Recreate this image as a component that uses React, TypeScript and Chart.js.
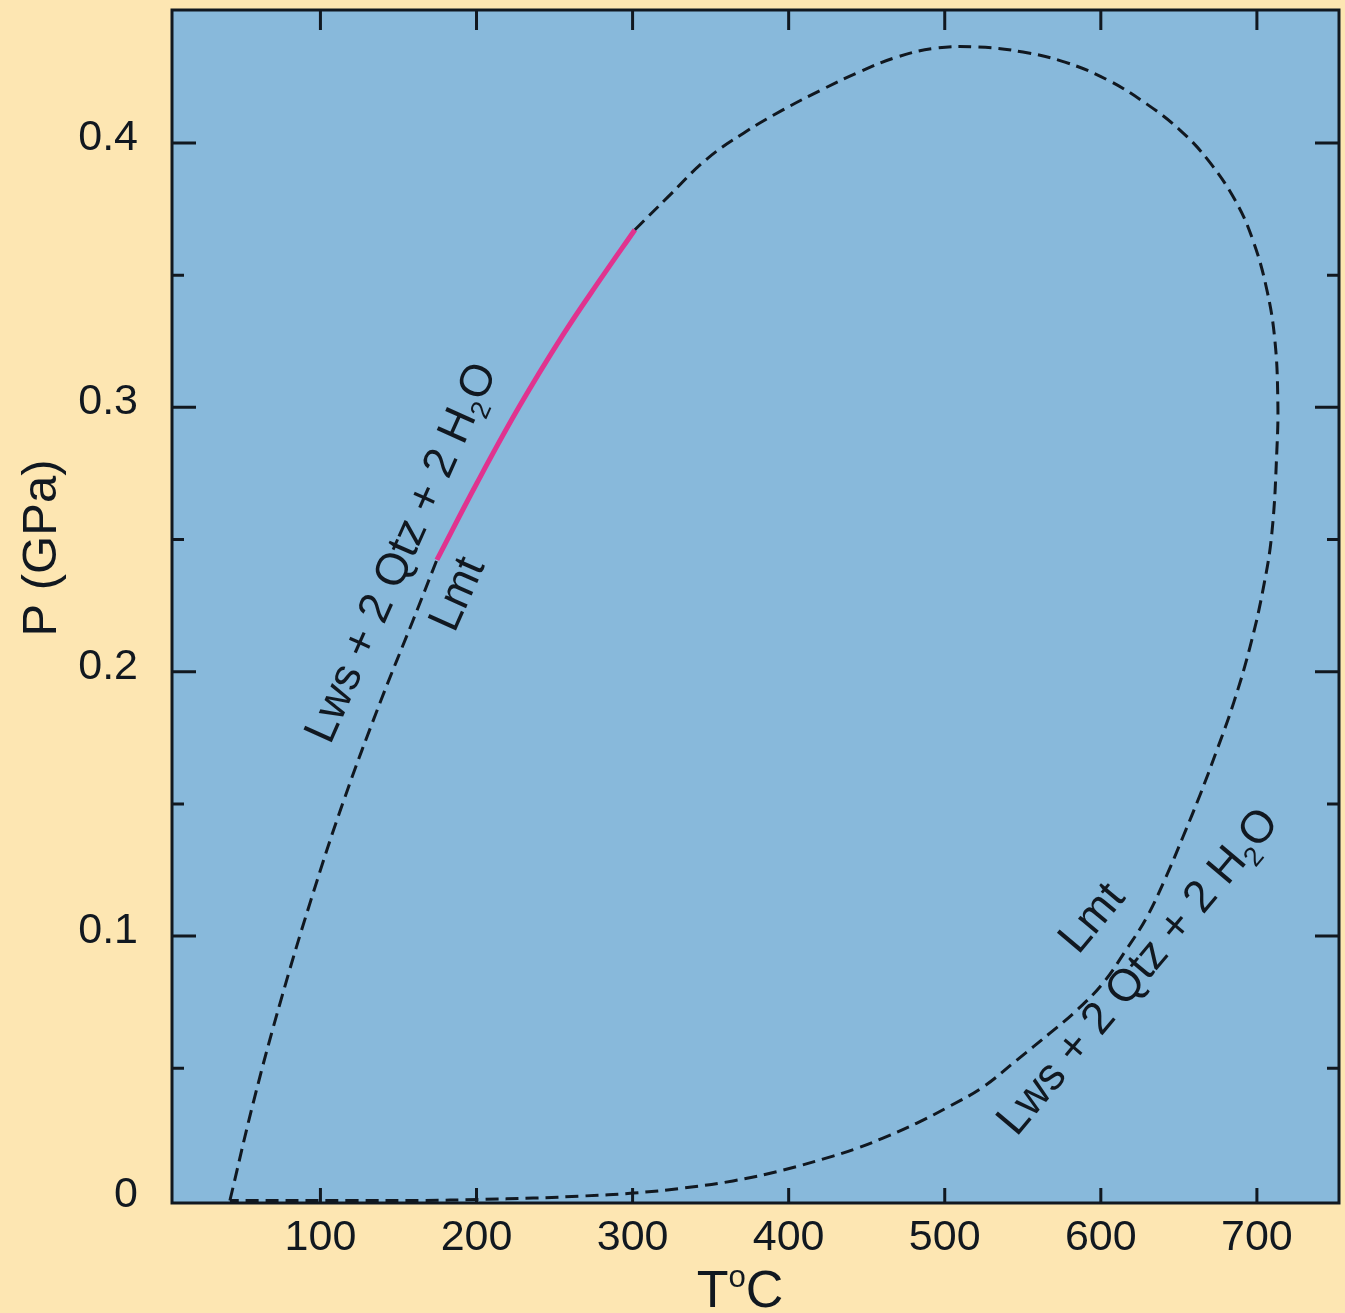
import React, { useEffect, useRef } from 'react';
import { Chart, registerables } from 'chart.js';

Chart.register(...registerables);

// ---- Data ----
const xTickValues = [100, 200, 300, 400, 500, 600, 700];
const xTickLabels = ['100', '200', '300', '400', '500', '600', '700'];
const yTickValues = [0, 0.1, 0.2, 0.3, 0.4];
const yTickLabels = ['0', '0.1', '0.2', '0.3', '0.4'];
const yMinorValues = [0.05, 0.15, 0.25, 0.35];

// lower-left dashed branch (T °C, P GPa)
const lowerLeftT = [42, 57.4, 74.7, 93.9, 115, 138.8, 159.3, 174.6];
const lowerLeftP = [0, 0.038, 0.0758, 0.1136, 0.1514, 0.1892, 0.2194, 0.2423];

// magenta solid segment
const magentaT = [174.6, 200.3, 227.2, 255.4, 279.1, 301.5];
const magentaP = [0.2423, 0.2714, 0.3001, 0.3274, 0.3482, 0.3672];

// remaining dashed loop (top arc, right side, bottom back to start)
const outerT = [301.5, 322.7, 346.9, 371.3, 396.3, 420.7, 445, 469.4, 494.3, 521.3, 550.1, 577, 604.5, 629.5, 650.7, 668.6, 685.9, 697.4, 706.4, 711.5, 713.4, 712.8, 709.6, 703.9, 695.6, 685.3, 674.4, 663.5, 652.6, 641.7, 629.5, 616.1, 601.4, 584.7, 567.4, 546.2, 524.5, 503.3, 482.2, 460.4, 444.4, 428.4, 396.4, 364.3, 332.3, 300.3, 268.3, 236.3, 202.4, 164, 119, 42];
const outerP = [0.3672, 0.3796, 0.3936, 0.4038, 0.4125, 0.42, 0.4268, 0.4325, 0.4359, 0.4363, 0.4344, 0.4306, 0.4238, 0.4147, 0.4049, 0.3936, 0.3785, 0.3633, 0.3444, 0.3255, 0.3028, 0.2839, 0.2525, 0.231, 0.2094, 0.1886, 0.1704, 0.1533, 0.1375, 0.1223, 0.1072, 0.0947, 0.0822, 0.072, 0.0633, 0.0531, 0.0429, 0.0357, 0.0293, 0.0236, 0.0199, 0.0168, 0.0115, 0.0074, 0.0047, 0.0028, 0.0017, 0.0009, 0.0004, 0, 0, 0];

// ---- Styles ----
const PAGE_BG = '#FDE6B2';
const PLOT_BG = '#88B9DB';
const INK = '#111820';
const MAGENTA = '#E0338F';
const FONT = '"Liberation Sans", Arial, Helvetica, sans-serif';

type Part = { t: string; sub?: boolean; sup?: boolean };

function drawRich(ctx: CanvasRenderingContext2D, parts: Part[], cx: number, cy: number, angleDeg: number, size: number) {
  ctx.save();
  ctx.translate(cx, cy);
  ctx.rotate((angleDeg * Math.PI) / 180);
  ctx.fillStyle = INK;
  ctx.textBaseline = 'alphabetic';
  ctx.textAlign = 'left';
  const sizes = parts.map((p) => (p.sub || p.sup ? size * 0.6 : size));
  let total = 0;
  const widths = parts.map((p, i) => {
    ctx.font = `${sizes[i]}px ${FONT}`;
    const w = ctx.measureText(p.t).width;
    total += w;
    return w;
  });
  let x = -total / 2;
  const base = size * 0.36;
  parts.forEach((p, i) => {
    ctx.font = `${sizes[i]}px ${FONT}`;
    let dy = 0;
    if (p.sub) dy = size * 0.22;
    if (p.sup) dy = -size * 0.38;
    ctx.fillText(p.t, x, base + dy);
    x += widths[i];
  });
  ctx.restore();
}

const framePlugin = {
  id: 'frame',
  beforeDraw(chart: any) {
    const { ctx, chartArea: a } = chart;
    ctx.save();
    ctx.fillStyle = PLOT_BG;
    ctx.fillRect(a.left, a.top, a.right - a.left, a.bottom - a.top);
    ctx.restore();
  },
  afterDatasetsDraw(chart: any) {
    const { ctx, chartArea: a } = chart;
    const xs = chart.scales.x;
    const ys = chart.scales.y;
    ctx.save();
    ctx.strokeStyle = INK;
    ctx.lineWidth = 3;
    ctx.lineCap = 'butt';
    ctx.beginPath();
    xTickValues.forEach((v) => {
      const px = xs.getPixelForValue(v);
      ctx.moveTo(px, a.bottom);
      ctx.lineTo(px, a.bottom - 15);
      ctx.moveTo(px, a.top);
      ctx.lineTo(px, a.top + 20);
    });
    yTickValues.forEach((v) => {
      const py = ys.getPixelForValue(v);
      if (v <= 0) return;
      ctx.moveTo(a.left, py);
      ctx.lineTo(a.left + 24, py);
      ctx.moveTo(a.right, py);
      ctx.lineTo(a.right - 24, py);
    });
    yMinorValues.forEach((v) => {
      const py = ys.getPixelForValue(v);
      ctx.moveTo(a.left, py);
      ctx.lineTo(a.left + 12, py);
      ctx.moveTo(a.right, py);
      ctx.lineTo(a.right - 12, py);
    });
    ctx.stroke();
    ctx.strokeRect(a.left, a.top, a.right - a.left, a.bottom - a.top);
    ctx.restore();

    // curve labels
    const reaction: Part[] = [{ t: 'Lws + 2 Qtz + 2 H' }, { t: '2', sub: true }, { t: 'O' }];
    drawRich(ctx, reaction, xs.getPixelForValue(150.3), ys.getPixelForValue(0.2455), -66, 45);
    drawRich(ctx, [{ t: 'Lmt' }], xs.getPixelForValue(186.2), ys.getPixelForValue(0.2298), -66, 45);
    drawRich(ctx, reaction, xs.getPixelForValue(622.5), ys.getPixelForValue(0.0872), -50, 45);
    drawRich(ctx, [{ t: 'Lmt' }], xs.getPixelForValue(593), ys.getPixelForValue(0.1075), -50, 45);

    // axis titles
    drawRich(ctx, [{ t: 'T' }, { t: 'o', sup: true }, { t: 'C' }], 740, 1288, 0, 52);
    ctx.save();
    ctx.translate(56, 548);
    ctx.rotate(-Math.PI / 2);
    ctx.fillStyle = INK;
    ctx.font = `49px ${FONT}`;
    ctx.textAlign = 'center';
    ctx.textBaseline = 'alphabetic';
    ctx.fillText('P (GPa)', 0, 0);
    ctx.restore();
  },
};

export default function App() {
  const ref = useRef<HTMLCanvasElement>(null);
  useEffect(() => {
    const canvas = ref.current;
    if (!canvas) return;
    const zip = (a: number[], b: number[]) => a.map((x, i) => ({ x, y: b[i] }));
    const dashed = {
      showLine: true,
      borderColor: INK,
      borderWidth: 3,
      borderDash: [13, 7],
      pointRadius: 0,
      tension: 0.4,
      fill: false,
    };
    const chart = new Chart(canvas, {
      type: 'scatter',
      data: {
        datasets: [
          { ...dashed, data: zip(lowerLeftT, lowerLeftP) },
          { ...dashed, data: zip(outerT, outerP) },
          {
            data: zip(magentaT, magentaP),
            showLine: true,
            borderColor: MAGENTA,
            borderWidth: 5,
            pointRadius: 0,
            tension: 0.4,
            fill: false,
          },
        ],
      },
      options: {
        animation: false,
        responsive: true,
        maintainAspectRatio: false,
        devicePixelRatio: 1,
        layout: { padding: { left: 0, top: 10, right: 6, bottom: 0 } },
        plugins: { legend: { display: false }, tooltip: { enabled: false }, title: { display: false } },
        events: [],
        scales: {
          x: {
            type: 'linear',
            min: 4.9,
            max: 752.6,
            grid: { display: false, drawTicks: false },
            border: { display: false },
            afterFit: (s: any) => {
              s.height = 110;
              s.paddingLeft = 0;
              s.paddingRight = 0;
            },
            afterBuildTicks: (s: any) => {
              s.ticks = xTickValues.map((v) => ({ value: v }));
            },
            ticks: {
              padding: 9,
              color: INK,
              font: { size: 43, family: FONT },
              maxRotation: 0,
              autoSkip: false,
              callback: (v: any) => {
                const i = xTickValues.indexOf(Number(v));
                return i >= 0 ? xTickLabels[i] : '';
              },
            },
          },
          y: {
            type: 'linear',
            min: -0.00095,
            max: 0.4503,
            grid: { display: false, drawTicks: false },
            border: { display: false },
            afterFit: (s: any) => {
              s.width = 172;
              s.paddingTop = 0;
              s.paddingBottom = 0;
            },
            afterBuildTicks: (s: any) => {
              s.ticks = yTickValues.map((v) => ({ value: v }));
            },
            ticks: {
              padding: 34,
              labelOffset: -5,
              color: INK,
              font: { size: 43, family: FONT },
              autoSkip: false,
              callback: (v: any) => {
                const i = yTickValues.findIndex((t) => Math.abs(t - Number(v)) < 1e-9);
                return i >= 0 ? yTickLabels[i] : '';
              },
            },
          },
        },
      },
      plugins: [framePlugin],
    } as any);
    return () => chart.destroy();
  }, []);
  return (
    <div style={{ position: 'absolute', left: 0, top: 0, width: 1345, height: 1313, background: PAGE_BG }}>
      <canvas ref={ref} />
    </div>
  );
}
